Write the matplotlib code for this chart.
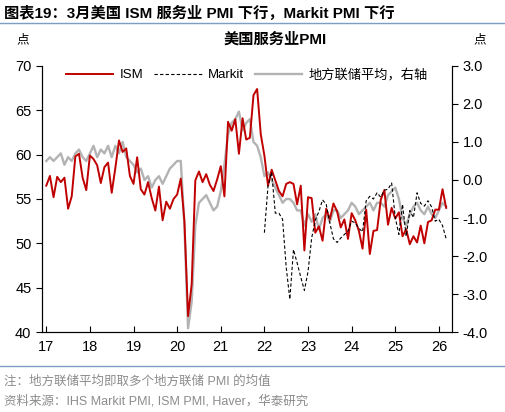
import numpy as np
import pandas as pd
import matplotlib
matplotlib.use('Agg')
import matplotlib.pyplot as plt

plt.rcParams['font.family'] = ['Liberation Sans', 'Noto Sans CJK SC', 'DejaVu Sans']

dates = pd.date_range('2017-01-01', '2026-03-01', freq='MS')
x = dates.year + (dates.month - 1) / 12.0

ism = [56.5, 57.6, 55.2, 57.5, 56.9, 57.4, 53.9, 55.3, 59.8, 60.1, 57.4, 56.0,
       59.9, 59.5, 58.8, 56.8, 58.6, 59.1, 55.7, 58.5, 61.6, 60.3, 60.7, 57.6,
       56.7, 59.7, 56.1, 55.5, 56.9, 55.1, 53.7, 56.4, 52.6, 54.7, 53.9, 55.0,
       55.5, 57.3, 52.5, 41.8, 45.4, 57.1, 58.1, 56.9, 57.8, 56.6, 55.9, 57.2,
       58.7, 55.3, 63.7, 62.7, 64.0, 60.1, 64.1, 61.7, 61.9, 66.7, 67.4, 62.3,
       59.9, 56.5, 58.3, 57.1, 55.9, 55.3, 56.7, 56.9, 56.7, 54.4, 56.5, 49.2,
       55.2, 55.1, 51.2, 51.9, 50.3, 53.9, 52.7, 54.5, 53.6, 51.8, 52.7, 50.5,
       53.4, 52.6, 51.4, 49.4, 53.8, 48.8, 51.4, 51.5, 54.9, 56.0, 52.1, 54.0,
       52.8, 53.5, 50.8, 51.6, 49.9, 50.8, 50.1, 52.0, 50.0, 52.4, 52.6, 53.8,
       53.8, 56.1, 54.0]

markit = [np.nan] * 60 + [
       51.2, 56.5, 58.0, 53.4, 53.4, 52.7, 47.3, 43.7, 49.3, 47.8, 46.2, 44.7,
       46.8, 50.6, 52.6, 53.6, 54.9, 54.4, 52.3, 50.5, 50.1, 50.6, 51.0, 51.4,
       52.5, 52.3, 51.7, 51.3, 54.8, 55.3, 55.0, 55.7, 55.2, 56.0, 56.1, 56.8,
       52.9, 51.0, 54.4, 50.8, 53.7, 52.9, 55.7, 54.5, 54.2, 54.8, 54.1, 52.5,
       52.7, 52.0, 50.5]

fed_avg = [0.5, 0.6, 0.5, 0.6, 0.7, 0.4, 0.6, 0.5, 0.7, 0.8, 0.6, 0.5,
           0.7, 0.9, 0.6, 0.8, 0.7, 0.9, 0.6, 0.9, 0.7, 1.0, 0.6, 0.5,
           0.4, 0.2, 0.3, 0.0, 0.1, -0.2, 0.0, 0.1, -0.1, 0.1, 0.3, 0.4,
           0.5, 0.5, -1.2, -3.9, -3.2, -1.2, -0.6, -0.5, -0.4, -0.6, -0.8, -0.7,
           -0.3, 0.4, 1.2, 1.5, 1.6, 1.8, 1.3, 1.5, 1.6, 1.0, 0.9, 0.6,
           0.1, 0.2, 0.0, -0.2, -0.4, -0.6, -0.5, -0.5, -0.6, -0.8, -0.8, -1.2,
           -0.9, -1.1, -0.9, -1.3, -1.0, -0.9, -1.1, -0.8, -0.8, -1.0, -0.9, -0.8,
           -0.6, -0.7, -0.9, -0.8, -0.7, -0.6, -0.8, -0.6, -0.6, -0.7, -0.4, -0.3,
           -0.2, -0.5, -1.0, -1.2, -0.9, -0.7, -0.6, -0.8, -0.9, -0.7, -0.9, -1.0,
           -0.8, -0.6, -0.7]

year_ticks = list(range(2017, 2027))
year_labels = [str(y % 100) for y in year_ticks]

fig = plt.figure(figsize=(5.05, 4.12), dpi=100)
ax = fig.add_axes([0.083, 0.194, 0.812, 0.646])
ax2 = ax.twinx()

l3, = ax2.plot(x, fed_avg, color='#b3b3b3', lw=1.7, label='地方联储平均，右轴')
l1, = ax.plot(x, ism, color='#c00000', lw=1.4, label='ISM')
l2, = ax.plot(x, markit, color='black', lw=0.8, ls=(0, (3, 2)), label='Markit')
ax.set_zorder(ax2.get_zorder() + 1)
ax.patch.set_visible(False)

ax.set_ylim(40, 70)
ax.set_yticks(range(40, 71, 5))
ax2.set_ylim(-4, 3)
ax2.set_yticks(np.arange(-4, 3.1, 1))
ax2.set_yticklabels([f'{v:.1f}' for v in np.arange(-4, 3.1, 1)])
ax.set_xlim(2016.9, 2026.3)
ax.set_xticks(year_ticks)
ax.set_xticklabels(year_labels)
for a in (ax, ax2):
    a.spines['top'].set_visible(False)
    a.tick_params(labelsize=10.5, length=4)
ax.tick_params(axis='x', direction='in', pad=6)

ax.legend(handles=[l1, l2, l3], loc='upper center', bbox_to_anchor=(0.5, 1.035),
          ncol=3, frameon=False, handlelength=3.6, columnspacing=0.8, handletextpad=0.5,
          prop={'family': ['Liberation Sans', 'Noto Sans CJK SC'], 'size': 9.5})

fig.text(0.008, 0.968, '图表19：3月美国 ISM 服务业 PMI 下行，Markit PMI 下行',
         fontsize=11, fontweight='bold', family=['Liberation Sans', 'Noto Sans CJK SC'],
         va='center')
fig.add_artist(plt.Line2D([0.0, 1.0], [0.943, 0.943], color='#7f9cc4', lw=1))
fig.text(0.545, 0.903, '美国服务业PMI', fontsize=11, fontweight='bold', ha='center',
         va='center', family=['Liberation Sans', 'Noto Sans CJK SC'])
fig.text(0.045, 0.903, '点', fontsize=9, ha='center', va='center', family=['Noto Sans CJK SC'])
fig.text(0.95, 0.903, '点', fontsize=9, ha='center', va='center', family=['Noto Sans CJK SC'])
fig.add_artist(plt.Line2D([0.0, 1.0], [0.112, 0.112], color='#7f9cc4', lw=1))
fig.text(0.008, 0.075, '注：地方联储平均即取多个地方联储 PMI 的均值', fontsize=9, color='#8c8c8c',
         va='center', family=['Liberation Sans', 'Noto Sans CJK SC'])
fig.text(0.008, 0.027, '资料来源：IHS Markit PMI, ISM PMI, Haver，华泰研究', fontsize=9,
         color='#8c8c8c', va='center', family=['Liberation Sans', 'Noto Sans CJK SC'])

fig.savefig('out.png', dpi=100)
